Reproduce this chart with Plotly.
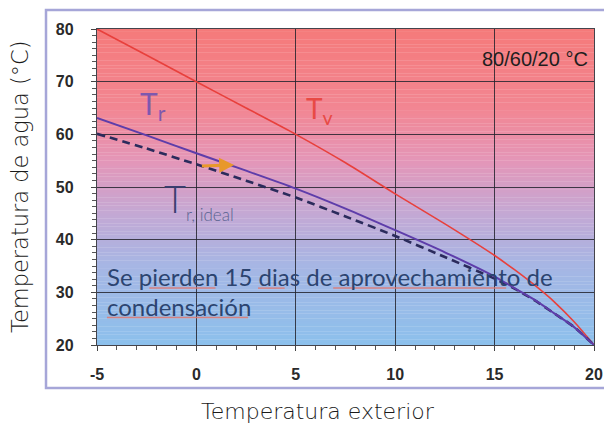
import numpy as np
import plotly.graph_objects as go

# ---- data ----
t_ext = [-5, -2.5, 0, 2.5, 5, 7.5, 10, 12.5, 15, 16, 17, 18, 19, 20]
t_v = [80, 75, 70, 65, 60, 54.6, 48.7, 43.0, 37.0, 34.3, 31.4, 28.2, 24.4, 20]
t_r = [63.1, 59.8, 56.4, 53.1, 49.7, 45.9, 41.8, 37.6, 33.0, 30.8, 28.6, 26.0, 23.4, 20]
t_r_ideal = [60.1, 57.3, 54.3, 51.2, 48.0, 44.4, 40.7, 36.7, 32.6, 30.7, 28.5, 26.0, 23.4, 20]
x_ticks = [-5, 0, 5, 10, 15, 20]
x_tick_text = ["-5", "0", "5", "10", "15", "20"]
y_ticks = [20, 30, 40, 50, 60, 70, 80]
arrow_tail = (0.2, 54.0)
arrow_head = (1.9, 54.2)

X_RANGE = [-5, 20]
Y_RANGE = [20, 80]

fig = go.Figure()

# gradient background bands (drawn below the grid)
stops = [(20, (140, 192, 236)), (35, (166, 182, 228)), (45, (196, 168, 212)),
         (55, (228, 150, 184)), (65, (242, 134, 146)), (80, (245, 122, 122))]
sv = np.array([s[0] for s in stops], float)
sc = np.array([s[1] for s in stops], float)
edges = np.linspace(Y_RANGE[0], Y_RANGE[1], 121)
for a, b in zip(edges[:-1], edges[1:]):
    m = (a + b) / 2
    col = [np.interp(m, sv, sc[:, k]) for k in range(3)]
    fig.add_shape(type="rect", xref="x domain", yref="y", x0=0, x1=1, y0=a, y1=b + 0.05,
                  fillcolor="rgb(%d,%d,%d)" % tuple(int(round(c)) for c in col),
                  line=dict(width=0), layer="below")

fig.add_trace(go.Scatter(x=t_ext, y=t_v, mode="lines",
                         line=dict(color="#E8403C", width=1.6, shape="spline", smoothing=0.7),
                         hoverinfo="skip", showlegend=False))
fig.add_trace(go.Scatter(x=t_ext, y=t_r_ideal, mode="lines",
                         line=dict(color="#2B2B5C", width=2.6, dash="8px,5px", shape="spline",
                                   smoothing=0.7),
                         hoverinfo="skip", showlegend=False))
fig.add_trace(go.Scatter(x=t_ext, y=t_r, mode="lines",
                         line=dict(color="#5E3DAA", width=2, shape="spline", smoothing=0.7),
                         hoverinfo="skip", showlegend=False))

ann = []
# orange arrow
ann.append(dict(x=arrow_head[0], y=arrow_head[1], ax=arrow_tail[0], ay=arrow_tail[1],
                xref="x", yref="y", axref="x", ayref="y", text="", showarrow=True,
                arrowhead=2, arrowsize=1, arrowwidth=3, arrowcolor="#E8982A"))
# curve labels
ann.append(dict(x=-2.95, y=65.6, xref="x", yref="y", text="T<sub>r</sub>", showarrow=False,
                xanchor="left", yanchor="middle",
                font=dict(family="Lato", size=30, color="#7E58AE")))
ann.append(dict(x=5.4, y=64.6, xref="x", yref="y", text="T<sub>v</sub>", showarrow=False,
                xanchor="left", yanchor="middle",
                font=dict(family="Lato", size=28, color="#E84A45")))
ann.append(dict(x=-1.75, y=47.6, xref="x", yref="y",
                text='T<sub><span style="font-size:17px;color:#5A6490">r, ideal</span></sub>',
                showarrow=False, xanchor="left", yanchor="middle",
                font=dict(family="Lato", size=38, color="#3A3F70", weight=300)))
ann.append(dict(x=19.8, y=74.3, xref="x", yref="y", text="80/60/20 °C", showarrow=False,
                xanchor="right", yanchor="middle",
                font=dict(family="Liberation Sans", size=20, color="#1E1E1E")))
ann.append(dict(x=-4.6, y=33.0, xref="x", yref="y",
                text="Se pierden 15 dias de aprovechamiento de", showarrow=False,
                xanchor="left", yanchor="middle",
                font=dict(family="Lato", size=24, color="#2C4470")))
ann.append(dict(x=-4.6, y=27.3, xref="x", yref="y", text="condensación", showarrow=False,
                xanchor="left", yanchor="middle",
                font=dict(family="Lato", size=24, color="#2C4470")))
# axis titles
ann.append(dict(x=-0.155, y=0.5, xref="paper", yref="paper", text="Temperatura de agua (°C)",
                textangle=-90, showarrow=False, xanchor="center", yanchor="middle",
                font=dict(family="DejaVu Sans", size=22.5, color="#1A1A1A", weight=300)))
ann.append(dict(x=0.4447, y=-0.212, xref="paper", yref="paper", text="Temperatura exterior",
                showarrow=False, xanchor="center", yanchor="middle",
                font=dict(family="DejaVu Sans", size=22, color="#1A1A1A", weight=300)))

# spell-check style underlines
for x0, x1, yy in [(-2.37, 0.96, 30.8), (3.1, 4.44, 30.8), (6.88, 15.58, 30.8), (-4.5, 2.6, 25.2)]:
    fig.add_shape(type="line", xref="x", yref="y", x0=x0, x1=x1, y0=yy, y1=yy,
                  line=dict(color="rgba(225,120,110,0.85)", width=1.5), layer="above")

# lavender outer border
fig.add_shape(type="rect", xref="paper", yref="paper", x0=-0.1026, x1=1.04, y0=-0.136, y1=1.060,
              line=dict(color="#A6A6D8", width=2.5), fillcolor="rgba(0,0,0,0)", layer="below")

axis_common = dict(showgrid=True, gridcolor="rgba(35,35,45,0.85)", gridwidth=1.4,
                   showline=True, linecolor="rgba(35,35,45,0.85)", linewidth=1.4, mirror=True,
                   zeroline=False, ticks="outside", ticklen=5, tickcolor="#444", automargin=False,
                   tickfont=dict(family="Liberation Sans", size=16, color="#2A2A2A", weight="bold"))

fig.update_xaxes(range=X_RANGE, tickvals=x_ticks, ticktext=x_tick_text, ticklabelstandoff=10,
                 minor=dict(dtick=1, ticks="outside", ticklen=4, tickcolor="#555", showgrid=False),
                 **axis_common)
fig.update_yaxes(range=Y_RANGE, tickvals=y_ticks, ticklabelstandoff=14,
                 minor=dict(dtick=1.25, tick0=20, ticks="outside", ticklen=4, tickcolor="#555",
                            showgrid=False),
                 **axis_common)

# the page adds an 8px body margin, so the figure is sized/offset to compensate
fig.update_layout(width=596, height=422, margin=dict(l=89, r=10, t=21, b=85),
                  paper_bgcolor="white", plot_bgcolor="white", annotations=ann,
                  showlegend=False)

fig.write_html("out.html")
